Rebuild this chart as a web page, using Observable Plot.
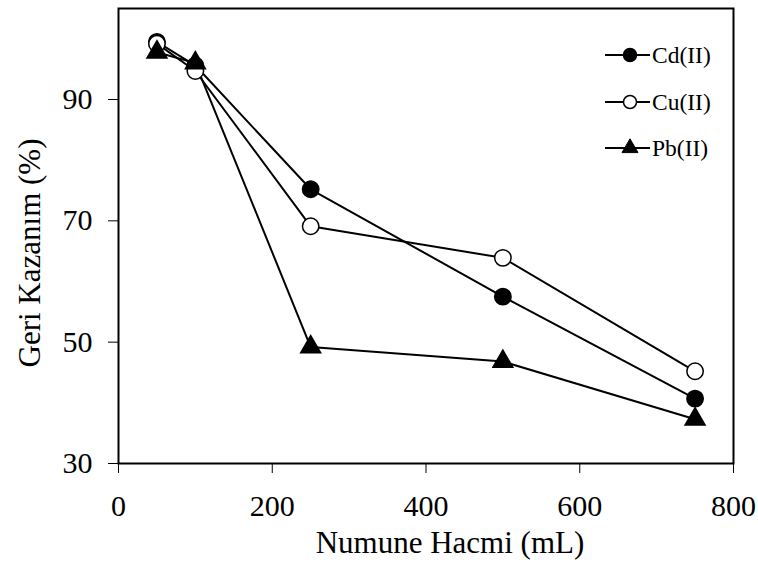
<!DOCTYPE html>
<html>
<head>
<meta charset="utf-8">
<script src="https://cdn.jsdelivr.net/npm/d3@7"></script>
<script src="https://cdn.jsdelivr.net/npm/@observablehq/plot@0.6"></script>
<style>
  html, body { margin: 0; padding: 0; background: #fff; }
  svg { display: block; }
</style>
</head>
<body>
<div id="chart"></div>
<script>
// ---- data ----
const volumes = [50, 100, 250, 500, 750];          // Numune Hacmi (mL)
const cdValues = [99.5, 95.6, 75.2, 57.5, 40.7];   // Cd(II)
const cuValues = [99.2, 94.7, 69.1, 63.9, 45.2];   // Cu(II)
const pbValues = [97.8, 96.0, 49.2, 46.8, 37.3];   // Pb(II)
const seriesNames = ["Cd(II)", "Cu(II)", "Pb(II)"];
const xTicks = [0, 200, 400, 600, 800];
const yTicks = [30, 50, 70, 90];
const xTitle = "Numune Hacmi (mL)";
const yTitle = "Geri Kazanım (%)";

const seriesValues = [cdValues, cuValues, pbValues];
const seriesStyle = [
  {symbol: "circle", fill: "black", r: 8.2},
  {symbol: "circle", fill: "white", r: 8.2},
  {symbol: "triangle", fill: "black", r: 7.4}
];
const rows = seriesNames.map((name, i) =>
  volumes.map((v, j) => ({series: name, x: v, y: seriesValues[i][j]})));

const font = "Liberation Serif";
const fontCss = "\"Liberation Serif\", \"Times New Roman\", serif";

const marks = [
  Plot.frame({stroke: "black", strokeWidth: 2}),
  Plot.axisX({ticks: xTicks, tickSize: 10, tickPadding: 21, fontSize: 30, fontFamily: font, fill: "black", label: null, tickFormat: d => String(d)}),
  Plot.axisY({ticks: yTicks, tickSize: 10, tickPadding: 16, fontSize: 30, fontFamily: font, fill: "black", label: null, tickFormat: d => String(d)})
];
rows.forEach((data) => {
  marks.push(Plot.line(data, {x: "x", y: "y", stroke: "black", strokeWidth: 2}));
});
rows.forEach((data, i) => {
  const s = seriesStyle[i];
  marks.push(Plot.dot(data, {x: "x", y: "y", symbol: s.symbol, r: s.r, fill: s.fill, stroke: "black", strokeWidth: 1.5}));
});
marks.push(Plot.text([xTitle], {frameAnchor: "bottom", textAnchor: "middle", lineAnchor: "middle", dx: 24, dy: 80, fontSize: 31, fontFamily: font, fill: "black"}));
marks.push(Plot.text([yTitle], {frameAnchor: "left", textAnchor: "middle", lineAnchor: "middle", rotate: -90, dx: -88, dy: 17, fontSize: 31, fontFamily: font, fill: "black"}));

const chart = Plot.plot({
  width: 758,
  height: 563,
  marginLeft: 118,
  marginRight: 25,
  marginTop: 8,
  marginBottom: 100,
  style: {background: "white", color: "black"},
  x: {domain: [0, 800]},
  y: {domain: [30, 105]},
  marks
});

// ---- legend (inside the frame, top right) ----
const svg = d3.select(chart);
const legend = svg.append("g").attr("font-size", 23.5).attr("text-anchor", "start");
const legendRowY = [55, 102, 148];
seriesNames.forEach((name, i) => {
  const y = legendRowY[i];
  const g = legend.append("g").attr("transform", `translate(0,${y})`);
  g.append("line").attr("x1", 605).attr("x2", 650).attr("y1", 0).attr("y2", 0)
    .attr("stroke", "black").attr("stroke-width", 2);
  const s = seriesStyle[i];
  if (s.symbol === "circle") {
    g.append("circle").attr("cx", 630).attr("cy", 0).attr("r", 6.5)
      .attr("fill", s.fill).attr("stroke", "black").attr("stroke-width", 1.5);
  } else {
    g.append("path").attr("d", d3.symbol(d3.symbolTriangle, 110)())
      .attr("transform", "translate(630,0)").attr("fill", s.fill).attr("stroke", "black").attr("stroke-width", 1);
  }
  g.append("text").attr("x", 652).attr("y", 0).attr("dy", "0.33em")
    .attr("text-anchor", "start").attr("fill", "black").text(name);
});

// serif face on every text element
svg.attr("font-family", fontCss).style("font-family", fontCss);
svg.selectAll("text").style("font-family", fontCss);

document.getElementById("chart").appendChild(chart);
</script>
</body>
</html>
